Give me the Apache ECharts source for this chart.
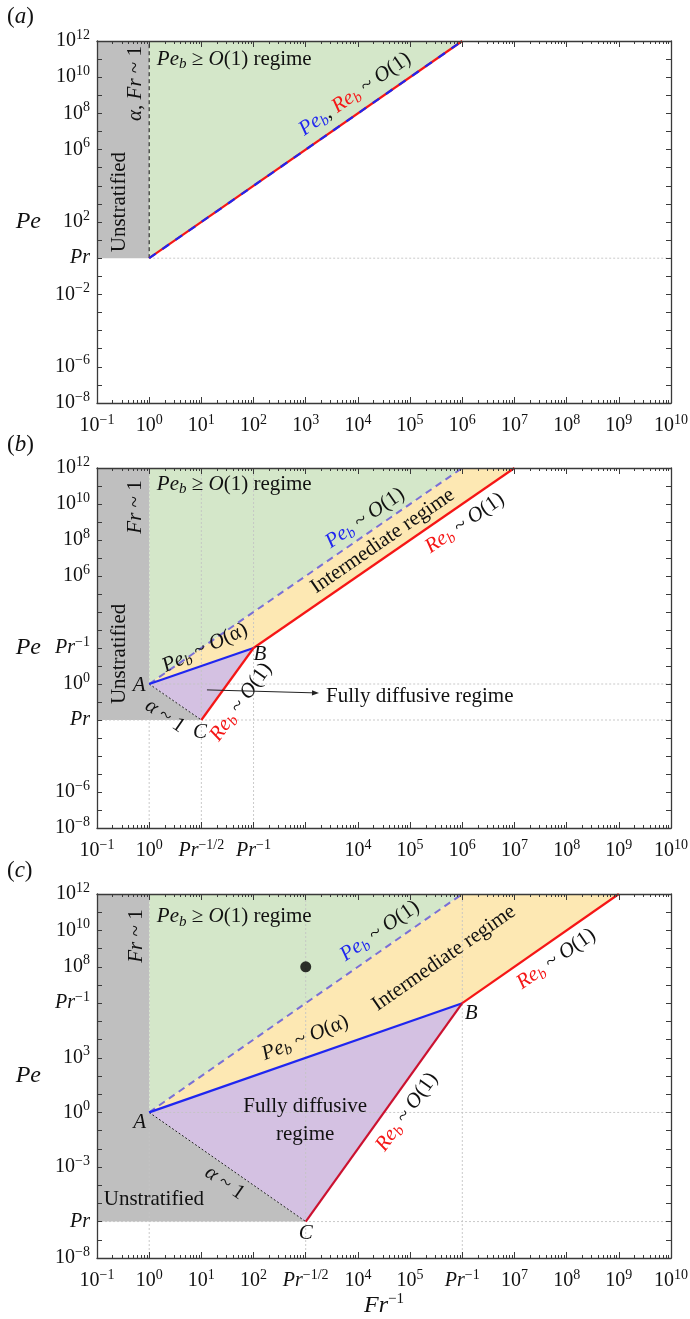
<!DOCTYPE html>
<html><head><meta charset="utf-8">
<script src="https://cdn.jsdelivr.net/npm/echarts@6/dist/echarts.min.js"></script>
<style>html,body{margin:0;padding:0;background:#fff}#main{width:690px;height:1319px}</style>
</head><body><div id="main"></div>
<script>
// ---------------- data ----------------
const X_MIN = 0.1, X_MAX = 1e10, Y_MIN = 1e-8, Y_MAX = 1e12;
const X_EXP = [-1,0,1,2,3,4,5,6,7,8,9,10];
const Y_EXP = [-8,-7,-6,-5,-4,-3,-2,-1,0,1,2,3,4,5,6,7,8,9,10,11,12];
const MINOR_MULT = [2,3,4,5,6,7,8,9];

const xLabelsA = [[-1,'10^−1'],[0,'10^0'],[1,'10^1'],[2,'10^2'],[3,'10^3'],[4,'10^4'],[5,'10^5'],[6,'10^6'],[7,'10^7'],[8,'10^8'],[9,'10^9'],[10,'10^10']];
const xLabelsB = [[-1,'10^−1'],[0,'10^0'],[1,'Pr^−1/2'],[2,'Pr^−1'],[4,'10^4'],[5,'10^5'],[6,'10^6'],[7,'10^7'],[8,'10^8'],[9,'10^9'],[10,'10^10']];
const xLabelsC = [[-1,'10^−1'],[0,'10^0'],[1,'10^1'],[2,'10^2'],[3,'Pr^−1/2'],[4,'10^4'],[5,'10^5'],[6,'Pr^−1'],[7,'10^7'],[8,'10^8'],[9,'10^9'],[10,'10^10']];
const yLabelsA = [[12,'10^12'],[10,'10^10'],[8,'10^8'],[6,'10^6'],[2,'10^2'],[0,'Pr'],[-2,'10^−2'],[-6,'10^−6'],[-8,'10^−8']];
const yLabelsB = [[12,'10^12'],[10,'10^10'],[8,'10^8'],[6,'10^6'],[2,'Pr^−1'],[0,'10^0'],[-2,'Pr'],[-6,'10^−6'],[-8,'10^−8']];
const yLabelsC = [[12,'10^12'],[10,'10^10'],[8,'10^8'],[6,'Pr^−1'],[3,'10^3'],[0,'10^0'],[-3,'10^−3'],[-6,'Pr'],[-8,'10^−8']];

// panel (a): Pr = 1
const grayA  = [[0.1,1e12],[1,1e12],[1,1],[0.1,1]];
const greenA = [[1,1e12],[1,1],[1e6,1e12]];
const lineA  = [[1,1],[1e6,1e12]];
const frA    = [[1,1],[1,1e12]];
const prLineA= [[1,1],[1e10,1]];

// panel (b): Pr = 1e-2
const grayB   = [[0.1,1e12],[1,1e12],[1,1],[10,1e-2],[0.1,1e-2]];
const greenB  = [[1,1e12],[1,1],[1e6,1e12]];
const yellowB = [[1,1],[1e6,1e12],[1e7,1e12],[100,100]];
const purpleB = [[1,1],[100,100],[10,1e-2]];
const dashB   = [[1,1],[1e6,1e12]];
const blueB   = [[1,1],[100,100]];
const redCB_B = [[10,1e-2],[100,100]];
const redUp_B = [[100,100],[1e7,1e12]];
const alphaB  = [[1,1],[10,1e-2]];
const vGridB  = [1,10,100];
const hGridB  = [1,1e-2];
const arrowB  = [[12.8,0.47],[1795,0.316]];

// panel (c): Pr = 1e-6
const grayC   = [[0.1,1e12],[1,1e12],[1,1],[1e3,1e-6],[0.1,1e-6]];
const greenC  = [[1,1e12],[1,1],[1e6,1e12]];
const yellowC = [[1,1],[1e6,1e12],[1e9,1e12],[1e6,1e6]];
const purpleC = [[1,1],[1e6,1e6],[1e3,1e-6]];
const dashC   = [[1,1],[1e6,1e12]];
const blueC   = [[1,1],[1e6,1e6]];
const redCB_C = [[1e3,1e-6],[1e6,1e6]];
const redUp_C = [[1e6,1e6],[1e9,1e12]];
const alphaC  = [[1,1],[1e3,1e-6]];
const dotC    = [[1e3,1e8]];
const vGridC  = [1,1e3,1e6];
const hGridC  = [1,1e-6];

// annotations (anchor in data coordinates)
const annA = [
  {at:[1.4,1e11], text:'{i|Pe}{b|b}{n| ≥ }{i|O}{n|(1) regime}', align:'left'},
  {at:[0.54,4.5e9], text:'{i|α}{n|, }{i|Fr}{n| ~ 1}', rot:90},
  {at:[0.275,1.26e3], text:'{n|Unstratified}', rot:90},
  {at:[8.8e3,1.17e9], text:'{iB|Pe}{bB|b}{n|, }{iR|Re}{bR|b}{n| ~ }{i|O}{n|(1)}', along:lineA}
];
const annB = [
  {at:[1.4,1.26e11], text:'{i|Pe}{b|b}{n| ≥ }{i|O}{n|(1) regime}', align:'left'},
  {at:[0.54,6.8e9], text:'{i|Fr}{n| ~ 1}', rot:90},
  {at:[0.275,47], text:'{n|Unstratified}', rot:90},
  {at:[1.37e4,1.66e9], text:'{iB|Pe}{bB|b}{n| ~ }{i|O}{n|(1)}', along:dashB},
  {at:[3.0e4,8.7e7], text:'{n|Intermediate regime}', along:dashB},
  {at:[1.12e6,8.7e8], text:'{iR|Re}{bR|b}{n| ~ }{i|O}{n|(1)}', along:redUp_B},
  {at:[11.7,100], text:'{i|Pe}{b|b}{n| ~ }{i|O}{n|(α)}', rot:25},
  {at:[0.64,0.87], text:'{i|A}'},
  {at:[133,41], text:'{i|B}'},
  {at:[9.4,2.1e-3], text:'{i|C}'},
  {at:[2.0,0.0166], text:'{i|α}{n| ~ 1}', along:alphaB},
  {at:[57.5,0.1], text:'{iR|Re}{bR|b}{n| ~ }{i|O}{n|(1)}', along:redCB_B},
  {at:[2455,0.19], text:'{n|Fully diffusive regime}', align:'left'}
];
const annC = [
  {at:[1.4,5.5e10], text:'{i|Pe}{b|b}{n| ≥ }{i|O}{n|(1) regime}', align:'left'},
  {at:[0.58,4.9e9], text:'{i|Fr}{n| ~ 1}', rot:90},
  {at:[2.63e4,9.3e9], text:'{iB|Pe}{bB|b}{n| ~ }{i|O}{n|(1)}', along:dashC},
  {at:[4.47e5,3.0e8], text:'{n|Intermediate regime}', along:dashC},
  {at:[6.3e7,2.7e8], text:'{iR|Re}{bR|b}{n| ~ }{i|O}{n|(1)}', along:redUp_C},
  {at:[1.48e6,2.9e5], text:'{i|B}'},
  {at:[977,1.23e4], text:'{i|Pe}{b|b}{n| ~ }{i|O}{n|(α)}', rot:22},
  {at:[977,0.38], text:'{m|Fully diffusive}\n{m|regime}'},
  {at:[0.66,0.295], text:'{i|A}'},
  {at:[28,1.32e-4], text:'{i|α}{n| ~ 1}', along:alphaC},
  {at:[1.23,1.55e-5], text:'{n|Unstratified}'},
  {at:[1000,2.1e-7], text:'{i|C}'},
  {at:[8.7e4,1.05], text:'{iR|Re}{bR|b}{n| ~ }{i|O}{n|(1)}', along:redCB_C}
];

// ---------------- styles / layout ----------------
const SERIF = 'Liberation Serif';
const C_GRAY = '#bfbfbf', C_GREEN = '#d4e7c9', C_YEL = '#fde8b3', C_PUR = '#d4c1e2';
const C_BLUE = '#1f26f0', C_RED = '#f51616', C_RED2 = '#cc1230', C_DASH = '#7a6fd6';
const C_GRID = '#c4c4c4', C_AX = '#3a3a3a';
const GRIDS = [{left:97, top:41, width:574, height:362},{left:97, top:468, width:574, height:360},{left:97, top:894, width:574, height:364}];
const FS = 21, FS_SUB = 15;

const TICK_RICH = {
  n:{fontFamily:SERIF, fontSize:20, color:'#111', verticalAlign:'middle'},
  i:{fontFamily:SERIF, fontSize:20, fontStyle:'italic', color:'#111', verticalAlign:'middle'},
  s:{fontFamily:SERIF, fontSize:14, color:'#111', verticalAlign:'middle', padding:[0,0,12,0]}
};
function tok(fs, style, color, pad){ const o={fontFamily:SERIF, fontSize:fs, fill:color, verticalAlign:'middle'}; if(style) o.fontStyle=style; if(pad) o.padding=pad; return o; }
const ANN_RICH = {
  n: tok(FS,null,'#111'), i: tok(FS,'italic','#111'), b: tok(FS_SUB,'italic','#111',[10,0,0,0]),
  iB: tok(FS,'italic',C_BLUE), bB: tok(FS_SUB,'italic',C_BLUE,[10,0,0,0]),
  iR: tok(FS,'italic',C_RED), bR: tok(FS_SUB,'italic',C_RED,[10,0,0,0]),
  m: Object.assign(tok(FS,null,'#111'), {lineHeight:28})
};

function fmtTick(s){
  const parts = s.split('^');
  const base = parts[0] === 'Pr' ? '{i|Pr}' : '{n|' + parts[0] + '}';
  return parts.length > 1 ? base + '{s|' + parts[1] + '}' : base;
}
function labelFormatter(list){
  const m = new Map(list.map(d => [d[0], d[1]]));
  return v => { const e = Math.round(Math.log10(v)); return m.has(e) ? fmtTick(m.get(e)) : ''; };
}
const p10 = e => Math.pow(10, e);
const xMajorVals = X_EXP.map(p10);
const yMajorVals = Y_EXP.map(p10);
const xMinorVals = [];
X_EXP.slice(0, -1).forEach(e => MINOR_MULT.forEach(m => xMinorVals.push(Number((m * p10(e)).toPrecision(4)))));

const AL = {show:true, lineStyle:{color:C_AX, width:1.3}};
function xAxisDef(gi, pos, vals, len, showLine, labels, name){
  const a = {type:'log', logBase:10, gridIndex:gi, min:X_MIN, max:X_MAX, position:pos, z:20,
    splitLine:{show:false}, minorTick:{show:false},
    axisLine: showLine ? AL : {show:false},
    axisTick:{show:true, inside:true, length:len, customValues:vals, lineStyle:{color:C_AX, width:1}},
    axisLabel: labels ? {show:true, customValues:labels.map(d=>p10(d[0])), formatter:labelFormatter(labels), margin:10, rich:TICK_RICH} : {show:false}
  };
  if (name) { a.name = name; a.nameLocation = 'middle'; a.nameGap = 31;
    a.nameTextStyle = {rich:{i:{fontFamily:SERIF, fontSize:24, fontStyle:'italic', color:'#111', verticalAlign:'middle'}, s:{fontFamily:SERIF, fontSize:15, color:'#111', verticalAlign:'middle', padding:[0,0,13,0]}}}; }
  return a;
}
function yAxisDef(gi, pos, labels){
  const a = {type:'log', logBase:10, gridIndex:gi, min:Y_MIN, max:Y_MAX, position:pos, z:20,
    splitLine:{show:false}, minorTick:{show:false}, axisLine:AL,
    axisTick:{show:true, inside:true, length:5, customValues:yMajorVals, lineStyle:{color:C_AX, width:1}},
    axisLabel: labels ? {show:true, customValues:labels.map(d=>p10(d[0])), formatter:labelFormatter(labels), margin:7, rich:TICK_RICH} : {show:false}
  };
  if (labels) { a.name = 'Pe'; a.nameLocation = 'middle'; a.nameRotate = 0; a.nameGap = 56;
    a.nameTextStyle = {fontFamily:SERIF, fontSize:24, fontStyle:'italic', color:'#111'}; }
  return a;
}
const xLabelSets = [xLabelsA, xLabelsB, xLabelsC];
const yLabelSets = [yLabelsA, yLabelsB, yLabelsC];
const xAxes = [], yAxes = [];
GRIDS.forEach((g, gi) => {
  xAxes.push(xAxisDef(gi,'bottom',xMajorVals,6,true,xLabelSets[gi], gi===2 ? '{i|Fr}{s|−1}' : null));
  xAxes.push(xAxisDef(gi,'bottom',xMinorVals,3,false,null));
  xAxes.push(xAxisDef(gi,'top',xMajorVals,6,true,null));
  xAxes.push(xAxisDef(gi,'top',xMinorVals,3,false,null));
  yAxes.push(yAxisDef(gi,'left',yLabelSets[gi]));
  yAxes.push(yAxisDef(gi,'right',null));
});

// ---------------- series builders ----------------
const ax = gi => ({xAxisIndex:gi*4, yAxisIndex:gi*2});
function poly(gi, pts, color){
  return Object.assign({type:'custom', coordinateSystem:'cartesian2d', silent:true, z:1, data:[pts[0]], encode:{x:0,y:1},
    renderItem:(p, api) => ({type:'polygon', shape:{points:pts.map(q => api.coord(q))}, style:{fill:color}})}, ax(gi));
}
function line(gi, pts, color, width, type, z){
  return Object.assign({type:'line', data:pts, symbol:'none', showSymbol:false, silent:true, z:z||4,
    lineStyle:{color:color, width:width, type:type||'solid'}}, ax(gi));
}
function vgrid(gi, xs){ return xs.map(x => line(gi, [[x,Y_MIN],[x,Y_MAX]], C_GRID, 0.9, [2,2], 2)); }
function texts(gi, items){
  return Object.assign({type:'custom', coordinateSystem:'cartesian2d', silent:true, z:8, data:items.map(d=>d.at), encode:{x:0,y:1},
    renderItem:(p, api) => {
      const d = items[p.dataIndex];
      const c = api.coord(d.at);
      let rot = (d.rot || 0) * Math.PI / 180;
      if (d.along) { const a = api.coord(d.along[0]), b = api.coord(d.along[d.along.length-1]); rot = Math.atan2(-(b[1]-a[1]), b[0]-a[0]); }
      return {type:'text', x:c[0], y:c[1], rotation:rot,
        style:{text:d.text, rich:ANN_RICH, fill:'#111', fontFamily:SERIF, fontSize:FS, align:d.align||'center', verticalAlign:'middle'}};
    }}, ax(gi));
}
function arrow(gi, pts){
  return Object.assign({type:'custom', coordinateSystem:'cartesian2d', silent:true, z:9, data:[pts[0]], encode:{x:0,y:1},
    renderItem:(p, api) => {
      const a = api.coord(pts[0]), b = api.coord(pts[1]);
      const ang = Math.atan2(b[1]-a[1], b[0]-a[0]), L = 7, W = 2.6;
      const bx = b[0]-L*Math.cos(ang), by = b[1]-L*Math.sin(ang);
      return {type:'group', children:[
        {type:'line', shape:{x1:a[0], y1:a[1], x2:bx, y2:by}, style:{stroke:'#222', lineWidth:1}},
        {type:'polygon', shape:{points:[[b[0],b[1]],[bx-W*Math.sin(ang), by+W*Math.cos(ang)],[bx+W*Math.sin(ang), by-W*Math.cos(ang)]]}, style:{fill:'#222'}}
      ]};
    }}, ax(gi));
}

const series = [
  // (a)
  poly(0, grayA, C_GRAY), poly(0, greenA, C_GREEN),
  line(0, prLineA, C_GRID, 0.9, [2,2], 2),
  line(0, frA, '#111', 1, [4,3], 4),
  line(0, lineA, C_RED, 2.2, 'solid', 4),
  line(0, lineA, C_BLUE, 2.2, [8,8], 5),
  texts(0, annA),
  // (b)
  poly(1, grayB, C_GRAY), poly(1, greenB, C_GREEN), poly(1, yellowB, C_YEL), poly(1, purpleB, C_PUR),
  ...vgrid(1, vGridB), line(1, [[1,hGridB[0]],[X_MAX,hGridB[0]]], C_GRID, 0.9, [2,2], 2), line(1, [[X_MIN,hGridB[1]],[X_MAX,hGridB[1]]], C_GRID, 0.9, [2,2], 2),
  line(1, alphaB, '#222', 1, [2,2], 4),
  line(1, dashB, C_DASH, 2, [7,5], 4),
  line(1, blueB, C_BLUE, 2.2, 'solid', 5),
  line(1, redCB_B, C_RED, 2.2, 'solid', 5),
  line(1, redUp_B, C_RED, 2.2, 'solid', 5),
  arrow(1, arrowB),
  texts(1, annB),
  // (c)
  poly(2, grayC, C_GRAY), poly(2, greenC, C_GREEN), poly(2, yellowC, C_YEL), poly(2, purpleC, C_PUR),
  ...vgrid(2, vGridC), line(2, [[1,hGridC[0]],[X_MAX,hGridC[0]]], C_GRID, 0.9, [2,2], 2), line(2, [[X_MIN,hGridC[1]],[X_MAX,hGridC[1]]], C_GRID, 0.9, [2,2], 2),
  line(2, alphaC, '#222', 1, [2,2], 4),
  line(2, dashC, C_DASH, 2, [7,5], 4),
  line(2, blueC, C_BLUE, 2.2, 'solid', 5),
  line(2, redCB_C, C_RED2, 2.2, 'solid', 5),
  line(2, redUp_C, C_RED, 2.2, 'solid', 5),
  Object.assign({type:'scatter', data:dotC, symbolSize:11, itemStyle:{color:'#000'}, silent:true, z:7}, ax(2)),
  texts(2, annC)
];

const TITLE_RICH = {p:{fontFamily:SERIF, fontSize:23, fontWeight:'normal', color:'#111'}, i:{fontFamily:SERIF, fontSize:23, fontStyle:'italic', fontWeight:'normal', color:'#111'}};
const option = {
  animation:false,
  backgroundColor:'#fff',
  title:[
    {text:'{p|(}{i|a}{p|)}', left:7, top:5, textStyle:{fontWeight:'normal', rich:TITLE_RICH}, padding:0},
    {text:'{p|(}{i|b}{p|)}', left:7, top:433, textStyle:{fontWeight:'normal', rich:TITLE_RICH}, padding:0},
    {text:'{p|(}{i|c}{p|)}', left:7, top:859, textStyle:{fontWeight:'normal', rich:TITLE_RICH}, padding:0}
  ],
  grid: GRIDS.map(g => Object.assign({containLabel:false, outerBoundsMode:'none'}, g)),
  xAxis: xAxes,
  yAxis: yAxes,
  series: series
};
const chart = echarts.init(document.getElementById('main'), null, {renderer:'canvas', width:690, height:1319});
chart.setOption(option);
</script></body></html>
